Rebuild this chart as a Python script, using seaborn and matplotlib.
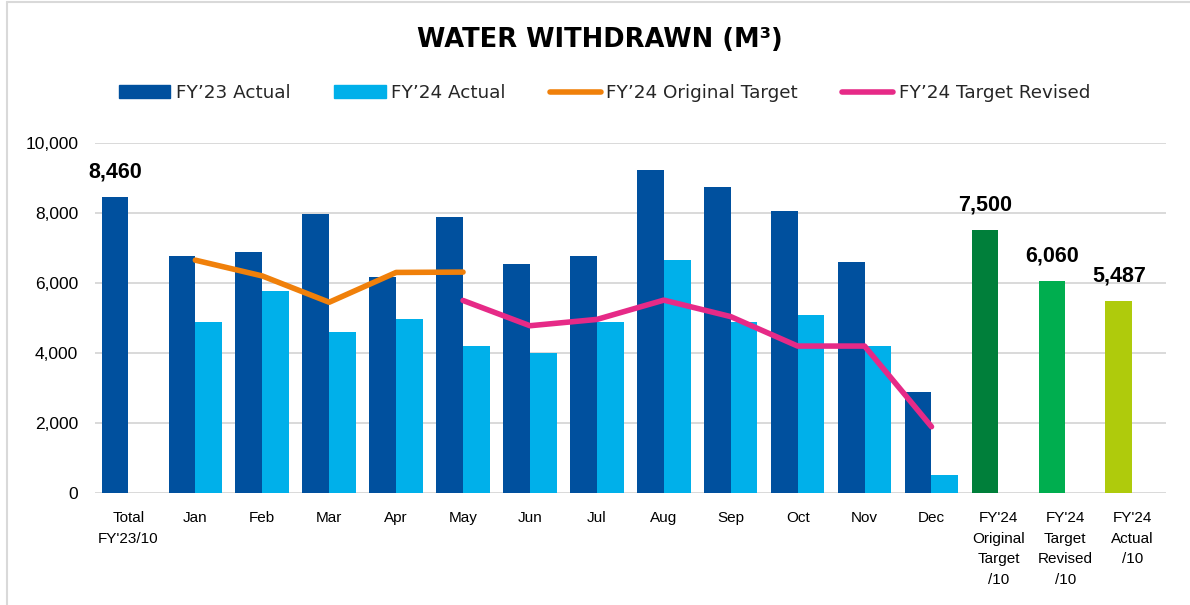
import matplotlib
matplotlib.use("Agg")
import matplotlib.pyplot as plt
from matplotlib.lines import Line2D
from matplotlib.patches import Patch
import seaborn as sns
import pandas as pd

# data
categories = ["Total\nFY'23/10", "Jan", "Feb", "Mar", "Apr", "May", "Jun", "Jul",
              "Aug", "Sep", "Oct", "Nov", "Dec",
              "FY'24\nOriginal\nTarget\n/10", "FY'24\nTarget\nRevised\n/10", "FY'24\nActual\n/10"]
months = ["Jan", "Feb", "Mar", "Apr", "May", "Jun", "Jul", "Aug", "Sep", "Oct", "Nov", "Dec"]
fy23_actual = [6760, 6870, 7960, 6180, 7890, 6540, 6780, 9210, 8750, 8050, 6600, 2880]
fy24_actual = [4900, 5770, 4600, 4960, 4200, 4000, 4890, 6650, 4880, 5100, 4200, 530]
total_fy23 = 8460
summary_cats = ["FY'24\nOriginal\nTarget\n/10", "FY'24\nTarget\nRevised\n/10", "FY'24\nActual\n/10"]
summary_values = [7500, 6060, 5487]
orig_target_months = ["Jan", "Feb", "Mar", "Apr", "May"]
orig_target = [6650, 6200, 5450, 6300, 6310]
revised_months = ["May", "Jun", "Jul", "Aug", "Sep", "Oct", "Nov", "Dec"]
revised_target = [5500, 4780, 4960, 5510, 5040, 4200, 4200, 1900]

series = ["FY'23 Actual", "FY'24 Actual"]
legend_labels = ["FY’23 Actual", "FY’24 Actual", "FY’24 Original Target", "FY’24 Target Revised"]
dark_blue = "#00509E"
light_blue = "#00B0EA"
orange = "#F0800A"
pink = "#E62A87"
greens = ["#007F3A", "#00AE4F", "#AFCB0C"]

rows = [(categories[0], series[0], total_fy23)]
for m, a, b in zip(months, fy23_actual, fy24_actual):
    rows.append((m, series[0], a))
    rows.append((m, series[1], b))
for c, v in zip(summary_cats, summary_values):
    rows.append((c, series[0], v))
df = pd.DataFrame(rows, columns=["category", "series", "value"])

sns.set_style("white")
plt.rcParams["font.family"] = ["DejaVu Sans"]
plt.rcParams["text.color"] = "black"
arial = ["Liberation Sans", "DejaVu Sans"]

fig = plt.figure(figsize=(11.9, 6.05), dpi=100)
ax = fig.add_axes([0.0798, 0.1846, 0.8998, 0.5795])

sns.barplot(data=df, x="category", y="value", hue="series", order=categories,
            hue_order=series, palette=[dark_blue, light_blue], saturation=1,
            width=0.8, dodge=True, linewidth=0, legend=False, ax=ax)

# recolor the summary bars
bars = ax.containers[0]
for patch, col in zip(bars.patches[-3:], greens):
    patch.set_facecolor(col)

pos = {c: i for i, c in enumerate(categories)}
sns.lineplot(x=[pos[m] for m in orig_target_months], y=orig_target, color=orange,
             linewidth=4, ax=ax, solid_capstyle="round")
sns.lineplot(x=[pos[m] for m in revised_months], y=revised_target, color=pink,
             linewidth=4, ax=ax, solid_capstyle="round")

# bold value labels
for c, v in [(categories[0], total_fy23)] + list(zip(summary_cats, summary_values)):
    ax.annotate(f"{v:,}", xy=(pos[c] - 0.2, v), xytext=(0, 18), textcoords="offset points",
                ha="center", va="center", fontsize=15.5, fontweight="bold",
                family=arial, color="black")

ax.set_xlim(-0.5, 15.5)
ax.set_ylim(0, 10000)
ax.set_yticks(range(0, 10001, 2000))
ax.set_yticklabels([f"{t:,}" for t in range(0, 10001, 2000)], fontsize=12.5, family=arial)
ax.set_xticks(range(len(categories)))
ax.set_xticklabels(categories, fontsize=11, family=arial)
ax.tick_params(axis="both", length=0, labelcolor="black")
ax.tick_params(axis="x", pad=13)
ax.tick_params(axis="y", pad=12)
ax.set_xlabel("")
ax.set_ylabel("")
ax.yaxis.grid(True, color="#D9D9D9", linewidth=1.4)
ax.set_axisbelow(True)
for s in ax.spines.values():
    s.set_visible(False)

fig.text(0.504, 0.934, "WATER WITHDRAWN (M³)", ha="center", va="center",
         fontsize=18.5, fontweight="bold", color="black")

handles = [Patch(color=dark_blue), Patch(color=light_blue),
           Line2D([], [], color=orange, linewidth=4, solid_capstyle="round"),
           Line2D([], [], color=pink, linewidth=4, solid_capstyle="round")]
fig.legend(handles, legend_labels, loc="center", bbox_to_anchor=(0.508, 0.846), ncol=4,
           frameon=False, fontsize=13.2, handlelength=2.8, handletextpad=0.3,
           columnspacing=2.4, labelcolor="#262626")

# chart frame edges visible in the screenshot
fig.add_artist(Line2D([0.006, 0.006], [0, 0.997], color="#D9D9D9", linewidth=1.5))
fig.add_artist(Line2D([0.006, 1], [0.997, 0.997], color="#D9D9D9", linewidth=1.5))

plt.setp(ax.get_xticklabels(), linespacing=1.58)
fig.savefig("out.png", dpi=100)
